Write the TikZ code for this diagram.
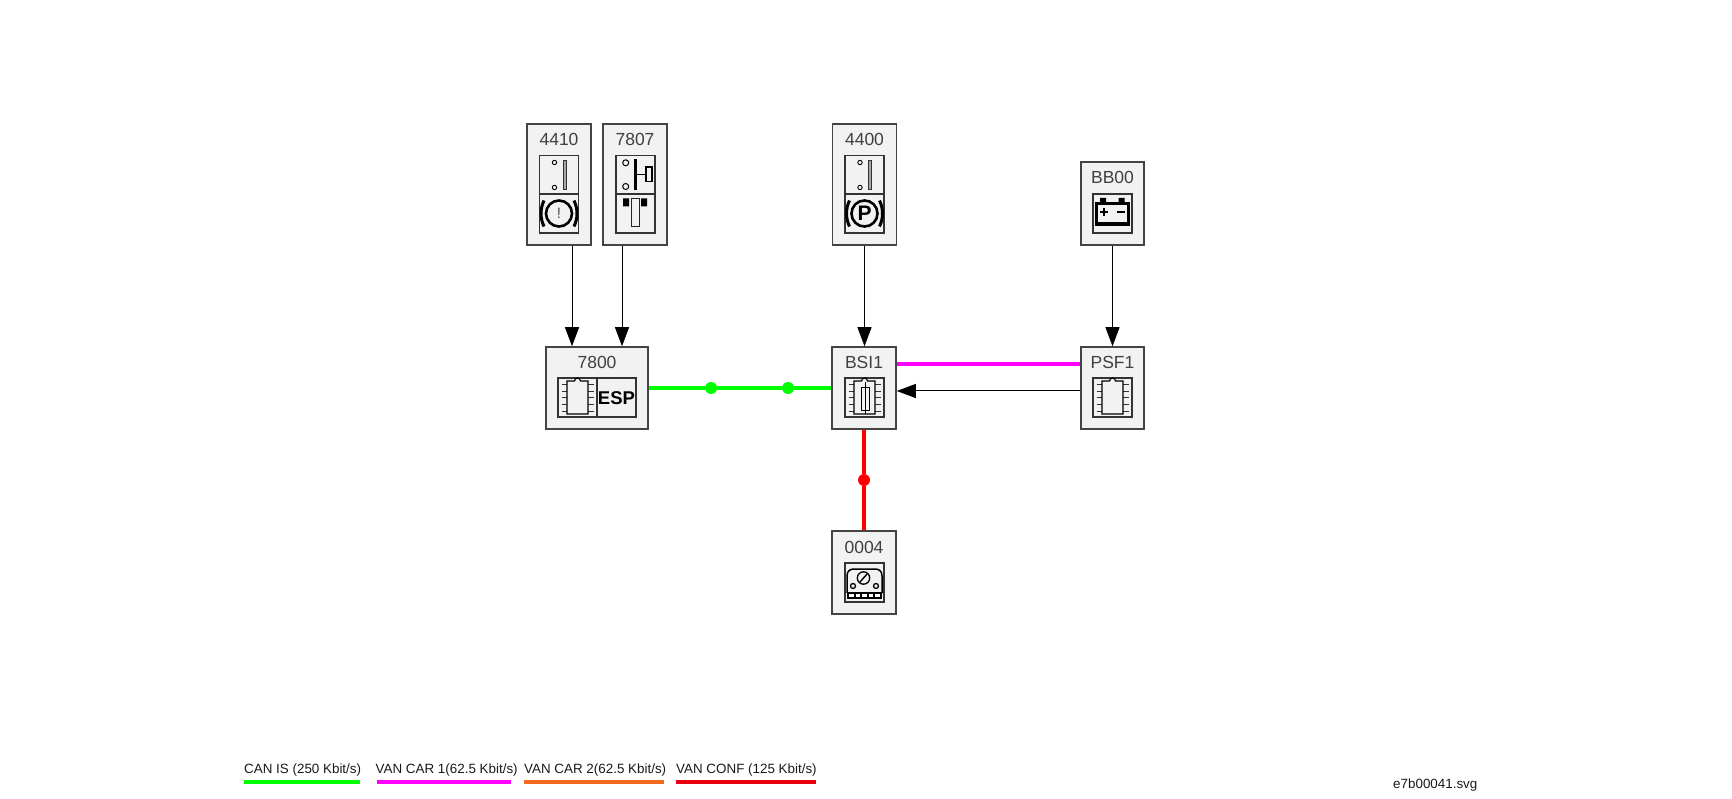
\documentclass[tikz,border=0pt]{standalone}
\usepackage{fontspec}
\setmainfont{Liberation Sans}
\usetikzlibrary{arrows.meta}
\definecolor{boxfill}{HTML}{F2F2F2}
\definecolor{boxline}{HTML}{444444}
\definecolor{pingray}{HTML}{333333}
\definecolor{cangreen}{HTML}{00FF00}
\definecolor{vanmag}{HTML}{FF00FF}
\definecolor{vanorange}{HTML}{F26A1F}
\definecolor{vanred}{HTML}{FF0000}
\definecolor{legred}{HTML}{E8000F}
\tikzset{
  unit/.style={draw=boxline,fill=boxfill,line width=1.5pt,inner sep=0pt,rectangle},
  lab/.style={font=\fontsize{17.5}{20}\selectfont,text=black!75,inner sep=0pt},
  legtext/.style={font=\fontsize{13.4}{15}\selectfont,anchor=west,inner sep=0pt,text=black!90},
  cell/.style={draw=black!80,line width=1.2pt},
  arr/.style={draw=black,line width=1pt,-{Stealth[length=19pt,width=14pt,inset=0pt]}},
  bus/.style={line width=4pt},
  busdot/.style={circle,inner sep=0pt,minimum size=12pt},
  legline/.style={line width=3.6pt},
  pics/emptycell/.style={code={\draw[cell] (0,0) rectangle (39,39);}},
  pics/switchcell/.style={code={
    \draw[cell] (0,0) rectangle (39,39);
    \draw[line width=.9pt] (15,7) circle (2.2) (15,32) circle (2.2);
    \draw[draw=black!80,fill=black!35,line width=.7pt] (23.5,4.5) rectangle (26.5,34);
  }},
  pics/brakecell/.style={code={
    \draw[cell] (0,0) rectangle (39,39);
    \draw[line width=2.6pt] (19.5,19.5) circle (13);
    \draw[line width=3pt] (4.5,6.5) .. controls (0.5,15) and (0.5,24) .. (4.5,32.5);
    \draw[line width=3pt] (34.5,6.5) .. controls (38.5,15) and (38.5,24) .. (34.5,32.5);
  }},
  pics/pedalcell/.style={code={
    \draw[cell] (0,0) rectangle (39,39);
    \draw[line width=1pt] (9.7,7.3) circle (3) (9.7,31) circle (3);
    \draw[line width=3pt] (19,4) -- (19,35);
    \draw[line width=1.5pt] (19,19) -- (29,19);
    \draw[line width=1.2pt] (36,11.5) -- (30,11.5) -- (30,26) -- (36,26) -- cycle;
  }},
  pics/stopcell/.style={code={
    \draw[cell] (0,0) rectangle (39,39);
    \fill (7,4.5) rectangle (13,12.5) (25,4.5) rectangle (31,12.5);
    \draw[draw=black!85,fill=boxfill,line width=1pt] (15,4.5) rectangle (23,33);
  }},
  pics/chipbody/.style={code={
    \foreach \py in {7,13.5,20,26.5,33} {
      \draw[pingray,line width=1pt] (3.5,\py) -- (9,\py) (30,\py) -- (35.5,\py);
    }
    \draw[fill=boxfill,line width=1.2pt] (9,3) -- (16.5,3) arc[start angle=180,end angle=360,radius=3] -- (30,3) -- (30,36) -- (9,36) -- cycle;
  }},
  pics/batterycell/.style={code={
    \draw[cell] (0,0) rectangle (39,39);
    \fill (7,4) rectangle (13,9) (25.5,4) rectangle (31.5,9);
    \draw[line width=3pt] (3.5,9.5) rectangle (35.5,29.5);
    \draw[line width=3.5pt] (2,30.5) -- (37,30.5);
    \draw[line width=2.2pt] (7,18) -- (15,18) (11,14) -- (11,22) (24,18) -- (32,18);
  }},
  pics/gaugecell/.style={code={
    \draw[cell] (0,0) rectangle (39,39);
    \draw[line width=1.5pt] (2,30) -- (2,13) .. controls (2,8) and (5,6) .. (9,6) -- (30,6) .. controls (34,6) and (37,8) .. (37,13) -- (37,30);
    \draw[line width=1.3pt] (18.5,15) circle (6.2);
    \draw[line width=1.4pt] (15,19) -- (22,11);
    \draw[line width=1.3pt] (8,23) circle (2.5) (31,23) circle (2.5);
    \fill (2,29) rectangle (37,36);
    \foreach \sx in {4,10.5,17,23.5,30} { \fill[white] (\sx,30.5) rectangle (\sx+4.6,34); }
  }}
}
\begin{document}
\begin{tikzpicture}[x=1pt,y=-1pt]
\useasboundingbox (0,0) rectangle (1732,799);

% units
\node[unit,minimum width=64pt,minimum height=121pt] (n4410) at (559,184.5) {};
\node[unit,minimum width=64pt,minimum height=121pt] (n7807) at (635,184.5) {};
\node[unit,minimum width=64pt,minimum height=121pt] (n4400) at (864.5,184.5) {};
\node[unit,minimum width=63pt,minimum height=83pt] (nBB00) at (1112.5,203.5) {};
\node[unit,minimum width=102pt,minimum height=82pt] (n7800) at (597,388) {};
\node[unit,minimum width=64pt,minimum height=82pt] (nBSI1) at (864,388) {};
\node[unit,minimum width=63pt,minimum height=82pt] (nPSF1) at (1112.5,388) {};
\node[unit,minimum width=64pt,minimum height=83pt] (n0004) at (864,572.5) {};

% labels
\node[lab] (t4410) at (559,139) {4410};
\node[lab] (t7807) at (635,139) {7807};
\node[lab] (t4400) at (864.5,139) {4400};
\node[lab] (tBB00) at (1112.5,177) {BB00};
\node[lab] (t7800) at (597,362) {7800};
\node[lab] (tBSI1) at (864,362) {BSI1};
\node[lab] (tPSF1) at (1112.5,362) {PSF1};
\node[lab] (t0004) at (864,547) {0004};

% icons
\pic at (539.5,155.5) {switchcell};
\pic at (539.5,194) {brakecell};
\node[inner sep=0pt,font=\fontsize{15}{15}\selectfont,text=black!70] (excl) at (559,213.5) {!};
\pic at (616,155.5) {pedalcell};
\pic at (616,194) {stopcell};
\pic at (845,155.5) {switchcell};
\pic at (845,194) {brakecell};
\node[inner sep=0pt,font=\bfseries\fontsize{21}{21}\selectfont] (pp) at (864.5,213.5) {P};
\pic at (1093,194) {batterycell};
% 7800
\pic at (558,378) {emptycell};
\pic at (597,378) {emptycell};
\pic at (558,378) {chipbody};
\node[inner sep=0pt,font=\bfseries\fontsize{18.5}{18}\selectfont] (esp) at (616.5,398) {ESP};
% BSI1
\pic at (845,378) {emptycell};
\pic at (845,378) {chipbody};
\draw[line width=1pt] (861,388) rectangle (869,410);
\draw[line width=1pt] (865,382) -- (865,414);
% PSF1
\pic at (1093,378) {emptycell};
\pic at (1093,378) {chipbody};
% 0004
\pic at (845,563) {gaugecell};

% signal arrows
\draw[arr] ([xshift=13pt]n4410.south) -- ([xshift=13pt]n4410.south |- n7800.north);
\draw[arr] ([xshift=-13pt]n7807.south) -- ([xshift=-13pt]n7807.south |- n7800.north);
\draw[arr] (n4400.south) -- (n4400.south |- nBSI1.north);
\draw[arr] (nBB00.south) -- (nBB00.south |- nPSF1.north);
\draw[arr] ([yshift=-3pt]nPSF1.west) -- ([yshift=-3pt]nBSI1.east);

% buses
\node[busdot,fill=cangreen] (g1) at (711,388) {};
\node[busdot,fill=cangreen] (g2) at (788,388) {};
\draw[bus,cangreen] (n7800.east) -- (g1) -- (g2) -- (nBSI1.west);
\draw[bus,vanmag] ([yshift=24pt]nBSI1.east) -- ([yshift=24pt]nPSF1.west);
\node[busdot,fill=vanred] (r1) at (864,480) {};
\draw[bus,vanred] (nBSI1.south) -- (r1) -- (n0004.north);

% legend
\node[legtext] (l1) at (244,770.5) {CAN IS (250 Kbit/s)};
\node[legtext] (l2) at (375.5,770.5) {VAN CAR 1(62.5 Kbit/s)};
\node[legtext] (l3) at (524,770.5) {VAN CAR 2(62.5 Kbit/s)};
\node[legtext] (l4) at (676,770.5) {VAN CONF (125 Kbit/s)};
\coordinate (a1) at (244,782); \coordinate (b1) at (360,782);
\coordinate (a2) at (377,782); \coordinate (b2) at (511,782);
\coordinate (a3) at (524,782); \coordinate (b3) at (664,782);
\coordinate (a4) at (676,782); \coordinate (b4) at (816,782);
\draw[legline,cangreen] (a1) -- (b1);
\draw[legline,vanmag] (a2) -- (b2);
\draw[legline,vanorange] (a3) -- (b3);
\draw[legline,legred] (a4) -- (b4);
\node[legtext] (fn) at (1393,785) {e7b00041.svg};
\end{tikzpicture}
\end{document}
